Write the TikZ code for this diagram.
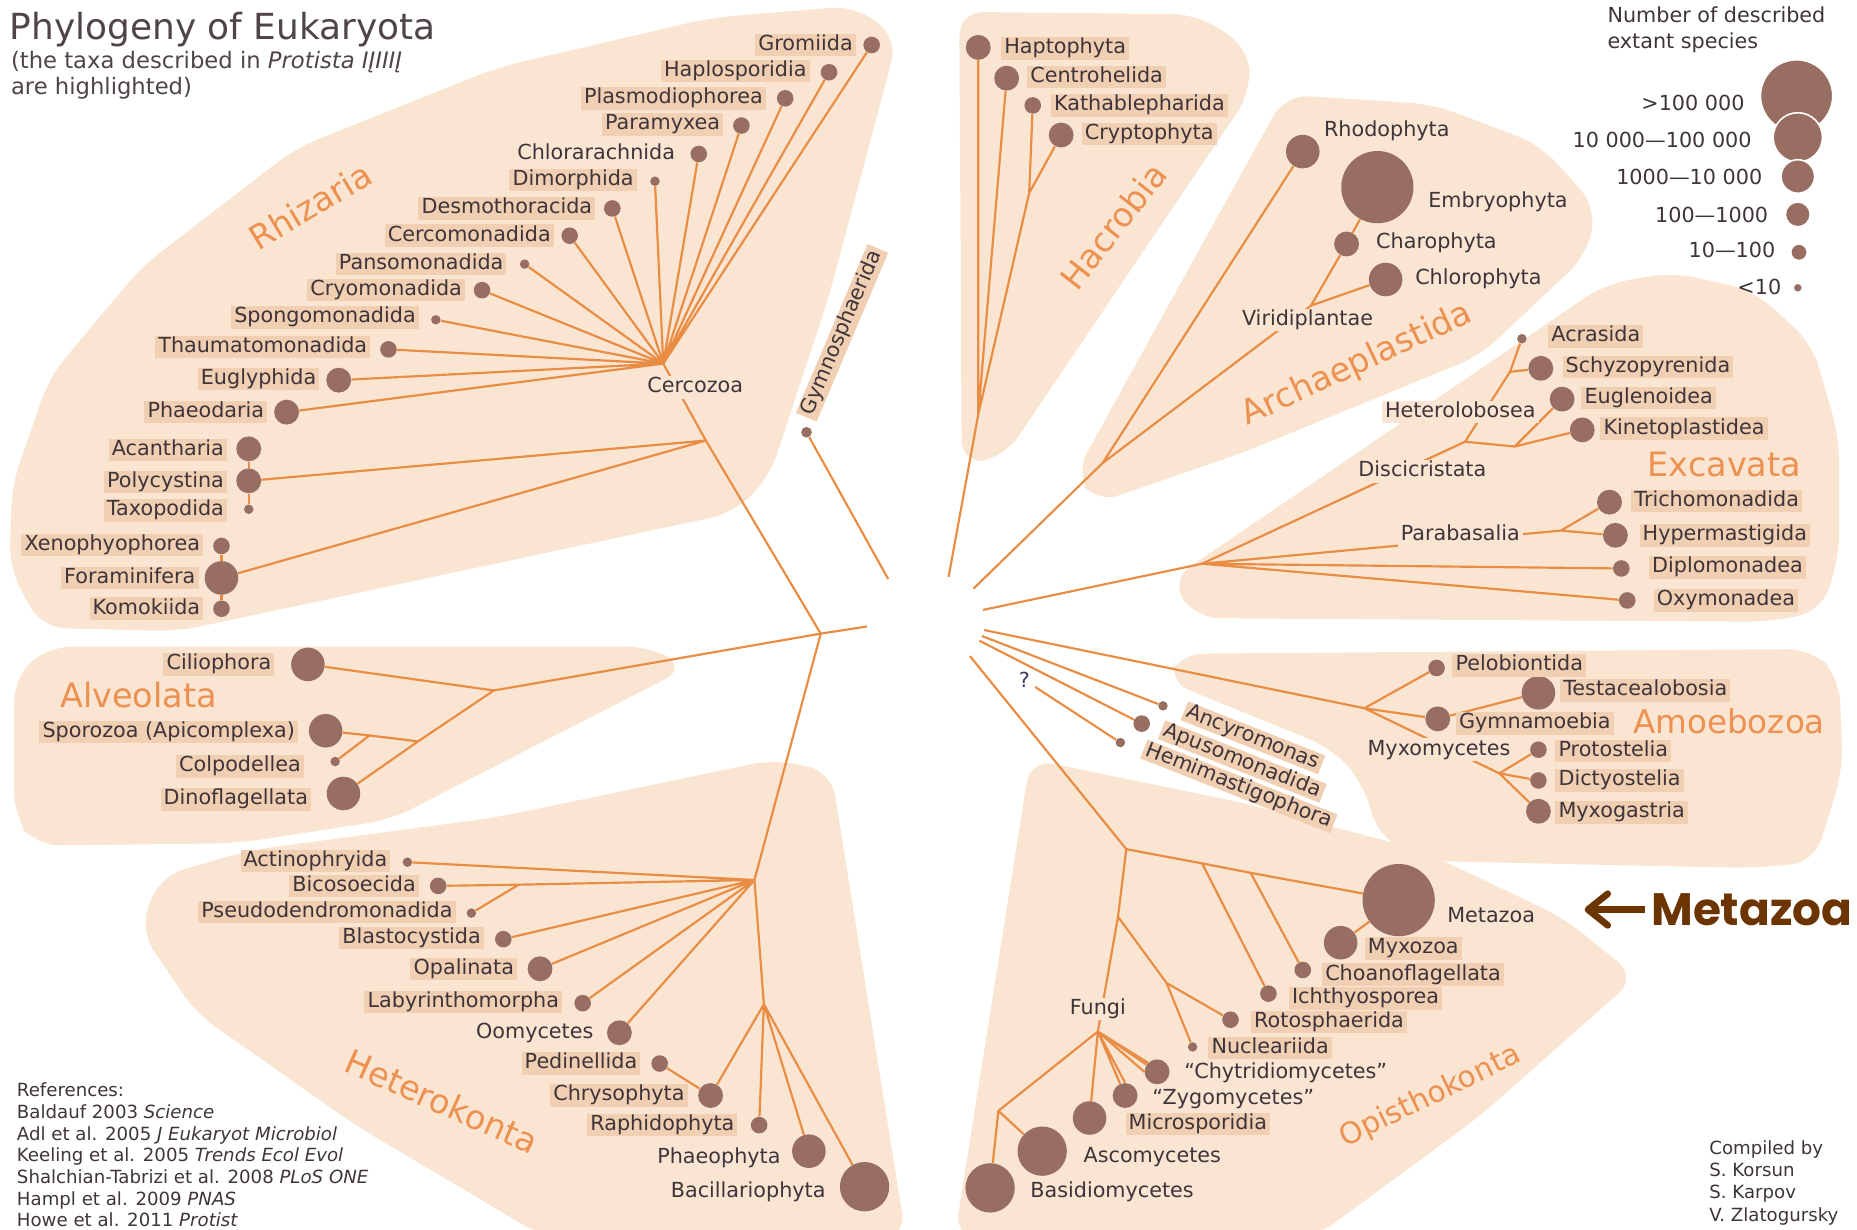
\documentclass[tikz,border=0pt]{standalone}
\usepackage{fontspec}
\setmainfont{DejaVu Sans}
\newfontfamily\metafont{Poppins}
\usetikzlibrary{arrows.meta}

\definecolor{cladec}{RGB}{249,229,210}
\definecolor{hlc}{RGB}{240,207,178}
\definecolor{branchc}{RGB}{233,140,68}
\definecolor{dotc}{RGB}{152,110,98}
\definecolor{grpc}{RGB}{237,145,80}
\definecolor{txtc}{RGB}{62,52,58}
\definecolor{titlec}{RGB}{78,68,74}
\definecolor{metac}{RGB}{107,52,0}
\definecolor{qc}{RGB}{60,62,95}

\newcommand\lblfont{\fontsize{10.5}{12}\selectfont}
\newcommand\grpfont{\fontsize{17}{20}\selectfont}

\tikzset{
  clade/.style={fill=cladec, rounded corners=12pt},
  branch/.style={draw=branchc, line width=1.1pt},
  taxon/.style={circle, fill=dotc, inner sep=0pt, minimum size=#1},
  dotI/.style={taxon=4.8pt},
  dotII/.style={taxon=8.4pt},
  dotIII/.style={taxon=12.6pt},
  dotIV/.style={taxon=17pt},
  dotV/.style={taxon=25pt},
  dotVI/.style={taxon=36.6pt},
  hltx/.style={fill=hlc, text=txtc, font=\lblfont, inner xsep=1.6pt, inner ysep=0.8pt, text height=7.6pt, text depth=2.2pt},
  plaintx/.style={hltx, fill=none},
  ontx/.style={hltx, fill=cladec},
  tilttx/.style={hltx, rotate=-21.5, inner ysep=0.4pt, text height=7.4pt, text depth=2pt},
  grouptx/.style={text=grpc, font=\grpfont, inner sep=0pt},
  metaarrow/.style={draw=metac, line width=3.4pt, -{Straight Barb[length=10pt, width=16pt, round]}, shorten <=3pt},
}

\begin{document}
\begin{tikzpicture}[x=0.6pt, y=-0.6pt]
\useasboundingbox (0,0) rectangle (1568,1038);

% Flaechen der Gruppen
\fill[clade] (722,5) -- (758,32) -- (700,250) -- (650,402) -- (620,433) -- (150,533) -- (35,530) -- (8,480) -- (10,410) -- (42,318) -- (120,225) -- (250,125) -- (420,57) -- (600,15) -- cycle; % Rhizaria
\fill[clade] (810,10) -- (1010,12) -- (1054,40) -- (1056,78) -- (848,386) -- (812,392) -- cycle; % Hacrobia
\fill[clade] (1085,80) -- (1210,88) -- (1300,122) -- (1348,175) -- (1340,215) -- (1250,300) -- (1050,382) -- (925,425) -- (908,400) -- cycle; % Archaeplastida
\fill[clade] (988,490) -- (1355,240) -- (1412,230) -- (1480,245) -- (1530,290) -- (1553,370) -- (1553,470) -- (1538,516) -- (1495,525) -- (1010,522) -- cycle; % Excavata
\fill[clade] (995,552) -- (1530,548) -- (1553,572) -- (1556,650) -- (1532,728) -- (1480,733) -- (1205,727) -- (1165,708) -- (1150,660) -- (1125,632) -- (985,575) -- cycle; % Amoebozoa
\fill[clade] (870,641) -- (1050,678) -- (1200,718) -- (1320,775) -- (1382,825) -- (1250,942) -- (1110,1045) -- (806,1045) -- cycle; % Opisthokonta
\fill[clade] (40,546) -- (550,546) -- (580,564) -- (330,692) -- (200,712) -- (30,714) -- (12,690) -- (12,572) -- cycle; % Alveolata
\fill[clade] (118,785) -- (135,740) -- (210,718) -- (420,690) -- (655,641) -- (702,652) -- (765,1045) -- (460,1045) -- (300,950) -- (165,855) -- cycle; % Heterokonta

% Rhizaria
\node[dotII] (gro) at (736,38) {};
\node[dotII] (hapl) at (700,61) {};
\node[dotII] (plas) at (663,83) {};
\node[dotII] (para) at (626,106) {};
\node[dotII] (chlr) at (590,130) {};
\node[dotI] (dimo) at (553,153) {};
\node[dotII] (desm) at (517,176) {};
\node[dotII] (cerc) at (481,199) {};
\node[dotI] (pans) at (443,223) {};
\node[dotII] (cryo) at (407,245) {};
\node[dotI] (spon) at (368,270) {};
\node[dotII] (thau) at (328,295) {};
\node[dotIII] (eugl) at (286,321) {};
\node[dotIII] (phae) at (242,348) {};
\node[dotIII] (acan) at (210,379) {};
\node[dotIII] (poly) at (210,406) {};
\node[dotI] (taxo) at (210,430) {};
\node[dotII] (xeno) at (187,461) {};
\node[dotIV] (fora) at (187,488) {};
\node[dotII] (komo) at (187,514) {};
\node[taxon=5.4pt] (gyms) at (681,365) {};
\coordinate (Cz) at (560,307);
\coordinate (Rz) at (596,372);
\coordinate (R) at (693,535);
\coordinate (rootE) at (732,529);
\coordinate (gymE) at (750,489);
\draw[branch] (Cz) -- (gro) (Cz) -- (hapl) (Cz) -- (plas) (Cz) -- (para) (Cz) -- (chlr)
  (Cz) -- (dimo) (Cz) -- (desm) (Cz) -- (cerc) (Cz) -- (pans) (Cz) -- (cryo)
  (Cz) -- (spon) (Cz) -- (thau) (Cz) -- (eugl) (Cz) -- (phae);
\draw[branch] (rootE) -- (R) -- (Rz) -- (Cz);
\draw[branch] (Rz) -- (poly) (Rz) -- (fora);
\draw[branch] (acan) -- (poly) -- (taxo); % Retaria oben
\draw[branch] (xeno) -- (fora) -- (komo); % Retaria unten
\draw[branch] (gyms) -- (gymE);
\node[hltx, anchor=east] (groL) at (723,38) {Gromiida};
\node[hltx, anchor=east] (haplL) at (684,60) {Haplosporidia};
\node[hltx, anchor=east] (plasL) at (647,83) {Plasmodiophorea};
\node[hltx, anchor=east] (paraL) at (611,105) {Paramyxea};
\node[plaintx, anchor=east] (chlrL) at (573,130) {Chlorarachnida};
\node[hltx, anchor=east] (dimoL) at (538,152) {Dimorphida};
\node[hltx, anchor=east] (desmL) at (503,176) {Desmothoracida};
\node[hltx, anchor=east] (cercL) at (468,199) {Cercomonadida};
\node[hltx, anchor=east] (pansL) at (428,223) {Pansomonadida};
\node[hltx, anchor=east] (cryoL) at (393,245) {Cryomonadida};
\node[hltx, anchor=east] (sponL) at (354,268) {Spongomonadida};
\node[hltx, anchor=east] (thauL) at (313,293) {Thaumatomonadida};
\node[hltx, anchor=east] (euglL) at (270,320) {Euglyphida};
\node[hltx, anchor=east] (phaeL) at (226,348) {Phaeodaria};
\node[hltx, anchor=east] (acanL) at (192,380) {Acantharia};
\node[hltx, anchor=east] (polyL) at (192,407) {Polycystina};
\node[hltx, anchor=east] (taxoL) at (192,431) {Taxopodida};
\node[hltx, anchor=east] (xenoL) at (172,460) {Xenophyophorea};
\node[hltx, anchor=east] (foraL) at (168,488) {Foraminifera};
\node[hltx, anchor=east] (komoL) at (172,514) {Komokiida};
\node[ontx] (cercoz) at (587,327) {Cercozoa};
\node[hltx, rotate=67] (gymsL) at (711,281) {Gymnosphaerida};
\node[grouptx, rotate=31] (rhiG) at (262,174) {Rhizaria};

% Hacrobia
\node[dotIII] (hapt) at (826,40) {};
\node[dotIII] (cent) at (850,66) {};
\node[dotII] (kath) at (872,89) {};
\node[dotIII] (cryp) at (896,114) {};
\coordinate (H0) at (826,350);
\coordinate (H1) at (869,163);
\coordinate (hacE) at (801,487);
\draw[branch] (hacE) -- (H0) -- (hapt) (H0) -- (cent) (H0) -- (H1) -- (kath) (H1) -- (cryp);
\node[hltx, anchor=west] (haptL) at (845,41) {Haptophyta};
\node[hltx, anchor=west] (centL) at (867,65) {Centrohelida};
\node[hltx, anchor=west] (kathL) at (887,89) {Kathablepharida};
\node[hltx, anchor=west] (crypL) at (913,113) {Cryptophyta};
\node[grouptx, rotate=52] (hacG) at (940,191) {Hacrobia};

% Archaeplastida
\node[dotIV] (rhod) at (1100,128) {};
\node[dotVI] (embr) at (1163,158) {};
\node[dotIII] (char) at (1137,206) {};
\node[dotIV] (chlo) at (1170,236) {};
\coordinate (A0) at (931,391);
\coordinate (Vi) at (1107,258);
\coordinate (arcE) at (822,497);
\draw[branch] (arcE) -- (A0) -- (rhod) (A0) -- (Vi) -- (char) -- (embr) (Vi) -- (chlo);
\node[plaintx, anchor=west] (rhodL) at (1115,111) {Rhodophyta};
\node[plaintx, anchor=west] (embrL) at (1203,171) {Embryophyta};
\node[plaintx, anchor=west] (charL) at (1159,205) {Charophyta};
\node[plaintx, anchor=west] (chloL) at (1192,236) {Chlorophyta};
\node[ontx] (viri) at (1104,270) {Viridiplantae};
\node[grouptx, rotate=25] (arcG) at (1146,308) {Archaeplastida};

% Excavata
\node[dotI] (acra) at (1285,286) {};
\node[dotIII] (schy) at (1301,311) {};
\node[dotIII] (eugn) at (1319,337) {};
\node[dotIII] (kine) at (1336,363) {};
\node[dotIII] (tric) at (1359,424) {};
\node[dotIII] (hype) at (1364,452) {};
\node[dotII] (dipl) at (1369,480) {};
\node[dotII] (oxym) at (1374,507) {};
\coordinate (E0) at (1015,476);
\coordinate (Hn) at (1237,373);
\coordinate (Ab) at (1275,314);
\coordinate (Eg) at (1279,377);
\coordinate (Pb) at (1318,448);
\coordinate (excE) at (830,515);
\draw[branch] (excE) -- (E0) -- (Hn) -- (Ab) -- (acra) (Ab) -- (schy) (Hn) -- (Eg) -- (eugn) (Eg) -- (kine);
\draw[branch] (E0) -- (Pb) -- (tric) (Pb) -- (hype) (E0) -- (dipl) (E0) -- (oxym);
\node[hltx, anchor=west] (acraL) at (1307,284) {Acrasida};
\node[hltx, anchor=west] (schyL) at (1319,310) {Schyzopyrenida};
\node[hltx, anchor=west] (eugnL) at (1335,336) {Euglenoidea};
\node[hltx, anchor=west] (kineL) at (1351,362) {Kinetoplastidea};
\node[hltx, anchor=west] (tricL) at (1377,423) {Trichomonadida};
\node[hltx, anchor=west] (hypeL) at (1384,452) {Hypermastigida};
\node[hltx, anchor=west] (diplL) at (1392,479) {Diplomonadea};
\node[hltx, anchor=west] (oxymL) at (1396,507) {Oxymonadea};
\node[ontx] (hetl) at (1233,348) {Heterolobosea};
\node[ontx] (disc) at (1201,398) {Discicristata};
\node[ontx] (parb) at (1233,452) {Parabasalia};
\node[grouptx] (excG) at (1456,392) {Excavata};

% Amoebozoa
\node[dotII] (pelo) at (1213,564) {};
\node[dotIV] (test) at (1299,585) {};
\node[dotIII] (gymn) at (1214,607) {};
\node[dotII] (prot) at (1299,633) {};
\node[dotII] (dict) at (1299,659) {};
\node[dotIII] (myxg) at (1299,685) {};
\coordinate (Am0) at (1152,598);
\coordinate (Mx) at (1266,653);
\coordinate (amoE) at (831,532);
\draw[branch] (amoE) -- (Am0) -- (pelo) (Am0) -- (gymn) -- (test) (Am0) -- (Mx) -- (prot) (Mx) -- (dict) (Mx) -- (myxg);
\node[hltx, anchor=west] (peloL) at (1226,562) {Pelobiontida};
\node[hltx, anchor=west] (testL) at (1317,583) {Testacealobosia};
\node[hltx, anchor=west] (gymnL) at (1229,611) {Gymnamoebia};
\node[hltx, anchor=west] (protL) at (1313,634) {Protostelia};
\node[hltx, anchor=west] (dictL) at (1313,659) {Dictyostelia};
\node[hltx, anchor=west] (myxgL) at (1313,686) {Myxogastria};
\node[ontx] (myxm) at (1215,633) {Myxomycetes};
\node[grouptx, font=\fontsize{16.5}{19}\selectfont] (amoG) at (1460,609) {Amoebozoa};

% ohne Gruppe
\node[dotI] (ancy) at (982,596) {};
\node[dotII] (apus) at (964,611) {};
\node[dotI] (hemi) at (946,627) {};
\coordinate (ancE) at (829,537);
\coordinate (apuE) at (827,541);
\coordinate (hemE) at (874,580);
\draw[branch] (ancE) -- (ancy) (apuE) -- (apus) (hemE) -- (hemi);
\node[tilttx] (ancyL) at (1058,623) {Ancyromonas};
\node[tilttx] (apusL) at (1049,643) {Apusomonadida};
\node[tilttx] (hemiL) at (1046,664) {Hemimastigophora};
\node[text=qc, font=\lblfont, inner sep=0pt] (qmark) at (865,574) {?};

% Opisthokonta
\node[dotVI] (meta) at (1181,760) {};
\node[dotIV] (myxz) at (1132,796) {};
\node[dotII] (choa) at (1100,819) {};
\node[dotII] (ichs) at (1071,839) {};
\node[dotII] (roto) at (1039,861) {};
\node[dotI] (nucl) at (1007,884) {};
\node[dotIII] (chyt) at (977,905) {};
\node[dotIII] (zygo) at (950,925) {};
\node[dotIV] (micr) at (920,944) {};
\node[dotV] (asco) at (880,972) {};
\node[dotV] (basi) at (836,1003) {};
\coordinate (O0) at (951,717);
\coordinate (b1) at (1015,729);
\coordinate (b2) at (1056,737);
\coordinate (h1) at (944,774);
\coordinate (h2) at (985,830);
\coordinate (Fu) at (927,871);
\coordinate (Dk) at (843,938);
\coordinate (opiE) at (819,554);
\draw[branch] (opiE) -- (O0) -- (b1) -- (b2) -- (meta) -- (myxz) (b1) -- (ichs) (b2) -- (choa);
\draw[branch] (O0) -- (h1) -- (Fu) (h1) -- (h2) -- (roto) (h2) -- (nucl);
\draw[branch] (Fu) -- (chyt) (Fu) -- (chyt.north west) (Fu) -- (chyt.west) (Fu) -- (zygo) (Fu) -- (zygo.north) (Fu) -- (micr);
\draw[branch] (Fu) -- (Dk) -- (basi) (Dk) -- (asco);
\node[plaintx, anchor=west] (metaL) at (1219,774) {Metazoa};
\node[hltx, anchor=west] (myxzL) at (1152,801) {Myxozoa};
\node[hltx, anchor=west] (choaL) at (1116,823) {Choanoflagellata};
\node[hltx, anchor=west] (ichsL) at (1088,843) {Ichthyosporea};
\node[hltx, anchor=west] (rotoL) at (1056,863) {Rotosphaerida};
\node[hltx, anchor=west] (nuclL) at (1020,885) {Nucleariida};
\node[plaintx, anchor=west] (chytL) at (997,906) {“Chytridiomycetes”};
\node[plaintx, anchor=west] (zygoL) at (970,928) {“Zygomycetes”};
\node[hltx, anchor=west] (micrL) at (950,949) {Microsporidia};
\node[plaintx, anchor=west] (ascoL) at (912,977) {Ascomycetes};
\node[plaintx, anchor=west] (basiL) at (867,1007) {Basidiomycetes};
\node[ontx] (fungi) at (927,852) {Fungi};
\node[grouptx, rotate=26, font=\fontsize{15}{18}\selectfont] (opiG) at (1208,926) {Opisthokonta};

% Alveolata
\node[dotIV] (cili) at (260,561) {};
\node[dotIV] (spor) at (275,617) {};
\node[dotI] (colp) at (283,643) {};
\node[dotIV] (dino) at (290,670) {};
\coordinate (Al0) at (417,583);
\coordinate (Mz) at (353,626);
\coordinate (Ap) at (312,621);
\draw[branch] (R) -- (Al0) -- (cili) (Al0) -- (Mz) -- (dino) (Mz) -- (Ap) -- (spor) (Ap) -- (colp);
\node[hltx, anchor=east] (ciliL) at (232,561) {Ciliophora};
\node[hltx, anchor=east] (sporL) at (252,618) {Sporozoa (Apicomplexa)};
\node[hltx, anchor=east] (colpL) at (257,647) {Colpodellea};
\node[hltx, anchor=east] (dinoL) at (263,675) {Dinoflagellata};
\node[grouptx] (alvG) at (117,587) {Alveolata};

% Heterokonta
\node[dotI] (acti) at (344,728) {};
\node[dotII] (bico) at (370,748) {};
\node[dotI] (pseu) at (398,771) {};
\node[dotII] (blas) at (425,793) {};
\node[dotIII] (opal) at (456,818) {};
\node[dotII] (laby) at (492,847) {};
\node[dotIII] (oomy) at (523,872) {};
\node[dotII] (pedi) at (557,898) {};
\node[dotIII] (chry) at (600,925) {};
\node[dotII] (raph) at (641,950) {};
\node[dotIV] (phph) at (683,972) {};
\node[dotV] (baci) at (730,1002) {};
\coordinate (K0) at (637,743);
\coordinate (Kb) at (438,747);
\coordinate (K1) at (645,848);
\draw[branch] (R) -- (K0) -- (acti) (K0) -- (Kb) -- (bico) (Kb) -- (pseu) (K0) -- (blas) (K0) -- (opal) (K0) -- (laby) (K0) -- (oomy);
\draw[branch] (K0) -- (K1) -- (chry) (K1) -- (raph) (K1) -- (phph) (K1) -- (baci) (pedi) -- (chry);
\node[hltx, anchor=east] (actiL) at (330,727) {Actinophryida};
\node[hltx, anchor=east] (bicoL) at (354,748) {Bicosoecida};
\node[hltx, anchor=east] (pseuL) at (385,770) {Pseudodendromonadida};
\node[hltx, anchor=east] (blasL) at (409,792) {Blastocystida};
\node[hltx, anchor=east] (opalL) at (437,818) {Opalinata};
\node[hltx, anchor=east] (labyL) at (475,846) {Labyrinthomorpha};
\node[plaintx, anchor=east] (oomyL) at (504,872) {Oomycetes};
\node[hltx, anchor=east] (pediL) at (541,898) {Pedinellida};
\node[hltx, anchor=east] (chryL) at (581,925) {Chrysophyta};
\node[hltx, anchor=east] (raphL) at (623,950) {Raphidophyta};
\node[plaintx, anchor=east] (phphL) at (662,978) {Phaeophyta};
\node[plaintx, anchor=east] (baciL) at (700,1007) {Bacillariophyta};
\node[grouptx, rotate=-24] (hetG) at (373,930) {Heterokonta};

% Titel
\node[anchor=base west, text=titlec, font=\fontsize{18.2}{21}\selectfont, inner sep=0pt] (title) at (8,33) {Phylogeny of Eukaryota};
\node[anchor=north west, align=left, text=titlec, font=\fontsize{11.5}{13.2}\selectfont, inner sep=0pt] (subt) at (9,43) {(the taxa described in \textit{Protista IĮIIIĮ}\\are highlighted)};

% Legende
\node[anchor=north west, align=left, text=txtc, font=\fontsize{10.5}{13.2}\selectfont, inner sep=0pt] (legT) at (1357,5) {Number of described\\extant species};
\node[dotVI, draw=white, line width=0.8pt] (leg6) at (1517,81) {};
\node[dotV, draw=white, line width=0.8pt] (leg5) at (1518,116) {};
\node[dotIV, draw=white, line width=0.8pt] (leg4) at (1518,149) {};
\node[dotIII, draw=white, line width=0.8pt] (leg3) at (1518,181) {};
\node[dotII, draw=white, line width=0.8pt] (leg2) at (1519,213) {};
\node[dotI, draw=white, line width=0.8pt] (leg1) at (1518,243) {};
\node[plaintx, anchor=east] (leg6L) at (1476,89) {>100 000};
\node[plaintx, anchor=east] (leg5L) at (1482,120) {10 000—100 000};
\node[plaintx, anchor=east] (leg4L) at (1491,151) {1000—10 000};
\node[plaintx, anchor=east] (leg3L) at (1496,183) {100—1000};
\node[plaintx, anchor=east] (leg2L) at (1502,213) {10—100};
\node[plaintx, anchor=east] (leg1L) at (1507,244) {<10};

% Literatur und Autoren
\node[anchor=north west, align=left, text=txtc, font=\fontsize{9.2}{11}\selectfont, inner sep=0pt] (refs) at (14,914) {References:\\Baldauf 2003 \textit{Science}\\Adl et al. 2005 \textit{J Eukaryot Microbiol}\\Keeling et al. 2005 \textit{Trends Ecol Evol}\\Shalchian-Tabrizi et al. 2008 \textit{PLoS ONE}\\Hampl et al. 2009 \textit{PNAS}\\Howe et al. 2011 \textit{Protist}};
\node[anchor=north west, align=left, text=txtc, font=\fontsize{9.2}{11.2}\selectfont, inner sep=0pt] (comp) at (1443,963) {Compiled by\\S. Korsun\\S. Karpov\\V. Zlatogursky};

% Metazoa-Pfeil
\node[anchor=west, text=metac, font=\metafont\bfseries\fontsize{23}{26}\selectfont, inner sep=0pt] (metaz) at (1394,768) {Metazoa};
\coordinate (metaE) at (1338,768);
\draw[metaarrow] (metaz.west) -- (metaE);
\end{tikzpicture}
\end{document}
